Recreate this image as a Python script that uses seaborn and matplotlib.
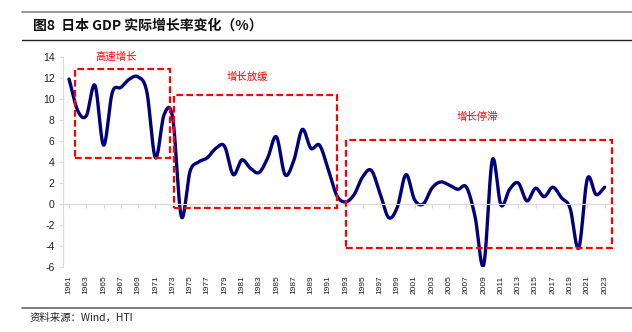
import numpy as np
import pandas as pd
import matplotlib
matplotlib.use("Agg")
import matplotlib.pyplot as plt
import seaborn as sns
from matplotlib.patches import Rectangle
from matplotlib.lines import Line2D

# ---------------- data ----------------
years = list(range(1961, 2024))
growth = [11.9, 8.9, 8.4, 11.3, 5.6, 10.6, 11.1, 11.9, 12.1, 10.7,
          4.4, 8.5, 8.2, -1.2, 3.1, 4.0, 4.4, 5.3, 5.5, 2.8,
          4.2, 3.4, 3.0, 4.4, 6.4, 2.8, 4.1, 7.1, 5.3, 5.6,
          3.3, 0.8, 0.2, 0.9, 2.6, 3.2, 1.0, -1.3, -0.3, 2.8,
          0.4, 0.0, 1.5, 2.1, 1.8, 1.4, 1.6, -1.2, -5.8, 4.2,
          -0.1, 1.4, 2.0, 0.3, 1.5, 0.7, 1.6, 0.6, -0.4, -4.2,
          2.4, 0.9, 1.6]
tick_years = list(range(1961, 2024, 2))
yticks = list(range(-6, 15, 2))

# phase boxes: (x0, x1, y0, y1) and labels
phase_names = ["高速增长", "增长放缓", "增长停滞"]
phase_x = [(1961.7, 1972.7), (1973.2, 1992.05), (1993.1, 2023.8)]
phase_y = [(4.4, 12.9), (-0.4, 10.4), (-4.15, 6.1)]
label_pos = [(1966.5, 14.0), (1981.6, 12.1), (2008.3, 8.3)]

title = "图8  日本 GDP 实际增长率变化（%）"
source = "资料来源：Wind，HTI"


def catmull_rom(x, y, n=20):
    x = np.asarray(x, float)
    y = np.asarray(y, float)
    px = np.concatenate([[2 * x[0] - x[1]], x, [2 * x[-1] - x[-2]]])
    py = np.concatenate([[2 * y[0] - y[1]], y, [2 * y[-1] - y[-2]]])
    xs, ys = [], []
    t = np.linspace(0, 1, n, endpoint=False)
    for i in range(1, len(px) - 2):
        for P, out in ((px, xs), (py, ys)):
            p0, p1, p2, p3 = P[i - 1], P[i], P[i + 1], P[i + 2]
            out.extend(0.5 * ((2 * p1) + (-p0 + p2) * t
                              + (2 * p0 - 5 * p1 + 4 * p2 - p3) * t ** 2
                              + (-p0 + 3 * p1 - 3 * p2 + p3) * t ** 3))
    xs.append(x[-1]); ys.append(y[-1])
    return np.array(xs), np.array(ys)


sns.set_theme(style="white")
plt.rcParams["font.family"] = ["Liberation Sans", "Noto Sans CJK SC", "DejaVu Sans"]

fig = plt.figure(figsize=(6.32, 3.32), dpi=100)
ax = fig.add_axes([63 / 632, 1 - 267 / 332, (615 - 63) / 632, (267 - 57) / 332])

sx, sy = catmull_rom(years, growth)
df = pd.DataFrame({"year": sx, "growth": sy})
sns.lineplot(data=df, x="year", y="growth", ax=ax, color="#00007f",
             linewidth=2.4, sort=False, estimator=None)

ax.set_xlim(1960.3, 2024.2)
ax.set_ylim(-6, 14)
ax.set_yticks(yticks)
ax.set_yticklabels([str(v) for v in yticks], fontsize=7.5, color="#222222")
ax.tick_params(axis="y", length=3, width=0.6, color="#d0d0d0", direction="out", pad=3, left=True)
ax.set_xlabel("")
ax.set_ylabel("")

# zero axis with ticks, labels at bottom
ax.spines["bottom"].set_position(("data", 0))
ax.spines["bottom"].set_color("#d9d9d9")
ax.spines["bottom"].set_linewidth(0.8)
ax.spines["left"].set_color("#d9d9d9")
ax.spines["left"].set_linewidth(0.8)
for s in ("top", "right"):
    ax.spines[s].set_visible(False)
ax.set_xticks(tick_years)
ax.tick_params(axis="x", bottom=True, length=3, width=0.6, color="#d0d0d0",
               direction="out", labelbottom=False)

sec = ax.secondary_xaxis("bottom")
sec.set_xticks(tick_years)
sec.set_xticklabels([str(y) for y in tick_years], rotation=90, fontsize=6.0, color="#222222")
sec.tick_params(axis="x", length=0, pad=6)
sec.spines["bottom"].set_visible(False)

# phase boxes
for (x0, x1), (y0, y1), name, (lx, ly) in zip(phase_x, phase_y, phase_names, label_pos):
    ax.add_patch(Rectangle((x0, y0), x1 - x0, y1 - y0, fill=False, edgecolor="#ff0000",
                           linewidth=1.6, linestyle=(0, (3, 1.5)), zorder=3, clip_on=False))
    ax.text(lx, ly, name, color="#ff0000", fontsize=7.5, ha="center", va="center",
            family=["Noto Sans CJK SC", "DejaVu Sans"])

# title and rules
fig.add_artist(Line2D([22 / 632, 1.0], [1 - 12 / 332] * 2, color="#888888", linewidth=1.2))
fig.add_artist(Line2D([22 / 632, 1.0], [1 - 40 / 332] * 2, color="#222222", linewidth=1.0))
fig.add_artist(Line2D([22 / 632, 1.0], [1 - 308 / 332] * 2, color="#666666", linewidth=1.2))
fig.text(33 / 632, 1 - 26 / 332, title, fontsize=10, fontweight="bold", ha="left", va="center",
         family=["Noto Sans CJK SC", "DejaVu Sans"], color="#111111")
fig.text(30 / 632, 1 - 318 / 332, source, fontsize=7.5, ha="left", va="center",
         family=["Noto Sans CJK SC", "DejaVu Sans"], color="#222222")

fig.savefig("out.png", dpi=100)
